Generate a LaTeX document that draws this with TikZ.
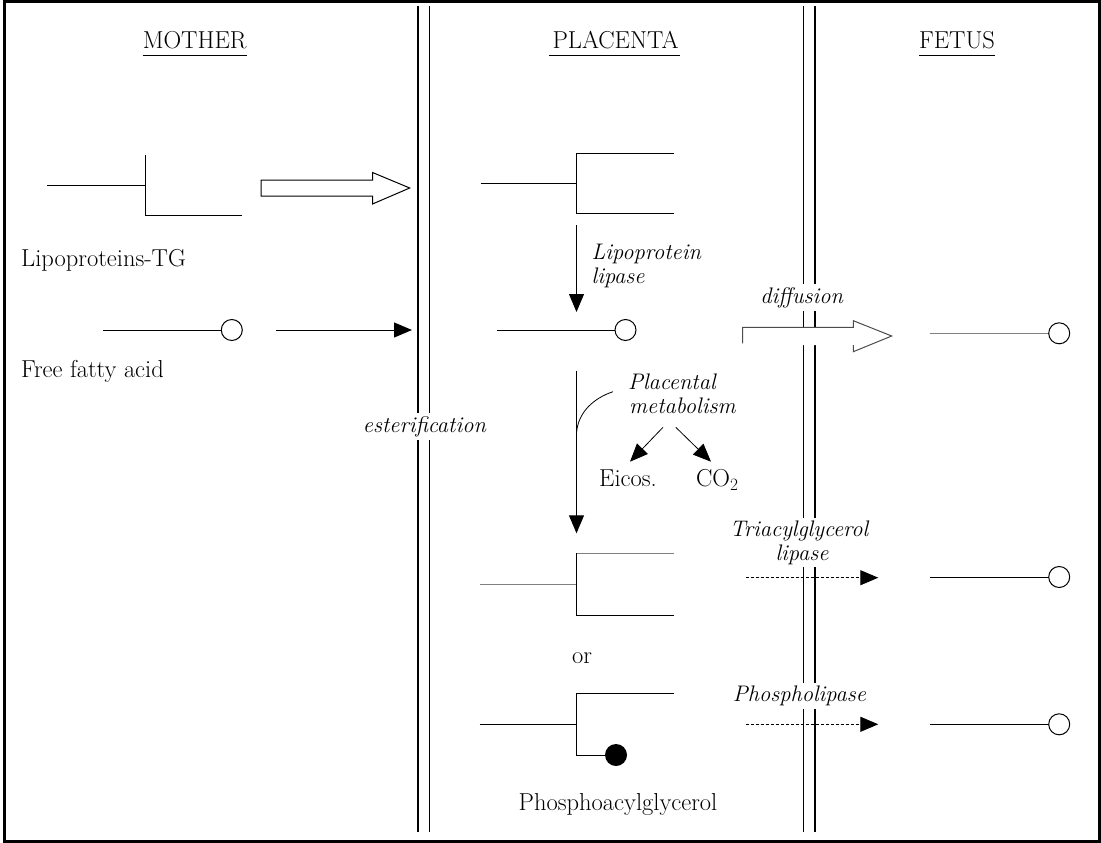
\documentclass[tikz,border=0pt]{standalone}
\usepackage{amsmath}
\usepackage{xcolor}
\usepackage{tikz}
\usetikzlibrary{arrows,calc,arrows.meta}

\tikzset{
  hdr/.style={inner sep=0pt,anchor=base},
  txt/.style={inner sep=0pt,anchor=base west},
  enz/.style={inner sep=0pt,anchor=base west,font=\fontsize{22.5}{24}\selectfont\itshape},
  cut/.style={fill=white,inner xsep=1pt,inner ysep=3pt,anchor=base,font=\fontsize{22.5}{24}\selectfont\itshape},
  chain/.style={line width=1pt},
  pale/.style={line width=1pt,black!50},
}

\begin{document}
\begin{tikzpicture}[x=1pt,y=-1pt,font=\fontsize{24.5}{26}\selectfont]
            \useasboundingbox (0,0) rectangle (1101,843);
            \draw[line width=3pt] (4.5,1.5) rectangle (1099.5,841.5);
            % membranes
            \coordinate (LMa) at (418,6);
            \coordinate (LMb) at (418,832);
            \coordinate (LNa) at (429.5,6);
            \coordinate (LNb) at (429.5,832);
            \coordinate (RMa) at (803.7,6);
            \coordinate (RMb) at (803.7,832);
            \coordinate (RNa) at (815,6);
            \coordinate (RNb) at (815,832);
            \draw[line width=2pt] (LMa) -- (LMb);
            \draw[line width=1.2pt] (LNa) -- (LNb);
            \draw[line width=1.2pt] (RMa) -- (RMb);
            \draw[line width=2pt] (RNa) -- (RNb);
            % headings
            \node (mother) [hdr] at (194.7,48.5) {MOTHER};
            \node (placenta) [hdr] at (615.5,48.5) {PLACENTA};
            \node (fetus) [hdr] at (957,48.5) {FETUS};
            \draw[line width=1.5pt] ($(mother.base west)+(0,7)$) -- ($(mother.base east)+(0,7)$);
            \draw[line width=1.5pt] ($(placenta.base west)+(-3,7)$) -- ($(placenta.base east)+(1,7)$);
            \draw[line width=1.5pt] ($(fetus.base west)+(0,7)$) -- ($(fetus.base east)+(0,7)$);
            % lipoproteins in the mother
            \coordinate (TGm) at (145,185);
            \draw[chain] ($(TGm)+(-98,0)$) -- (TGm);
            \draw[chain] ($(TGm)+(0,-30)$) -- ($(TGm)+(0,30)$) -- ($(TGm)+(97,30)$);
            \node (lptg) [txt] at (21,266) {Lipoproteins-TG};
            \coordinate (OA1) at (261,180);
            \coordinate (OA2) at (372.5,180);
            \coordinate (OA3) at (372.5,172.5);
            \coordinate (OA4) at (409.7,188);
            \coordinate (OA5) at (372.5,204);
            \coordinate (OA6) at (372.5,196);
            \coordinate (OA7) at (261,196);
            \draw[line width=1pt,fill=white] (OA1) -- (OA2) -- (OA3) -- (OA4) -- (OA5) -- (OA6) -- (OA7) -- cycle;
            % free fatty acid in the mother
            \coordinate (FAm) at (231.8,330);
            \draw[chain] (102.8,330) -- ($(FAm)+(-10.5,0)$);
            \draw[chain] (FAm) circle[radius=10.5];
            \node (ffa) [txt] at (21,377) {Free fatty acid};
            \coordinate (FAa) at (276,330);
            \coordinate (FAb) at (412,330);
            % placenta triacylglycerol
            \coordinate (TGp) at (576.5,183.5);
            \draw[chain] ($(TGp)+(-96,0)$) -- (TGp);
            \draw[chain] ($(TGp)+(97,-30)$) -- ($(TGp)+(0,-30)$) -- ($(TGp)+(0,30)$) -- ($(TGp)+(97,30)$);
            \coordinate (LLa) at (576.5,225);
            \coordinate (LLb) at (576.5,312);
            \node (lpl) [enz] at (591.5,259.3) {Lipoprotein};
            \node (lpl2) [enz] at (591.5,283.3) {lipase};
            % placenta free fatty acid
            \coordinate (FAp) at (625.5,330);
            \draw[chain] (496.5,330) -- ($(FAp)+(-10.5,0)$);
            \draw[chain] (FAp) circle[radius=10.5];
            % diffusion
            \coordinate (dfA) at (742.7,327.3);
            \coordinate (dfB) at (853.3,327.3);
            \coordinate (dfC) at (853.3,320.7);
            \coordinate (dfD) at (891.7,336);
            \coordinate (dfE) at (853.3,351.7);
            \coordinate (dfF) at (853.3,345);
            \coordinate (dfG) at (742.7,345);
            \fill[white] (dfA) -- (dfB) -- (dfC) -- (dfD) -- (dfE) -- (dfF) -- (dfG) -- cycle;
            \draw[line width=1pt,black!70] (742.7,343.3) -- (dfA) -- (dfB) -- (dfC) -- (dfD) -- (dfE) -- (dfF);
            \node (diff) [cut] at (801.7,303) {diffusion};
            % metabolism
            \coordinate (PMa) at (576.5,370.7);
            \coordinate (PMb) at (576.5,533.3);
            \coordinate (PMc) at (576.5,433);
            \coordinate (PMd) at (613,391.7);
            \draw[line width=0.8pt] (PMc) .. controls (578,412) and (594,398) .. (PMd);
            \node (plm) [enz] at (628,389.3) {Placental};
            \node (plm2) [enz] at (629,413.3) {metabolism};
            \coordinate (EIa) at (663,427.3);
            \coordinate (EIb) at (630,461.7);
            \coordinate (COa) at (675.8,427.3);
            \coordinate (COb) at (711,461.7);
            \node (eicos) [txt] at (599,486.7) {Eicos.};
            \node (co2) [txt] at (695.8,486.7) {CO$_2$};
            \node (esterif) [cut] at (424.4,432) {esterification};
            % re-esterified products
            \coordinate (TGq) at (576.5,584.3);
            \draw[pale] ($(TGq)+(-97,0)$) -- (TGq);
            \draw[pale] ($(TGq)+(97,-31)$) -- ($(TGq)+(0,-31)$);
            \draw[chain] ($(TGq)+(0,-31)$) -- ($(TGq)+(0,31)$) -- ($(TGq)+(97,31)$);
            \node (or) [txt] at (572,663.3) {or};
            \coordinate (PAg) at (576.5,724.3);
            \coordinate (Pdot) at (616,755);
            \draw[chain] ($(PAg)+(-97,0)$) -- (PAg);
            \draw[chain] ($(PAg)+(97,-31)$) -- ($(PAg)+(0,-31)$) -- ($(PAg)+(0,30.7)$) -- (Pdot);
            \fill (Pdot) circle[radius=11];
            \node (phag) [txt] at (518.5,810.7) {Phosphoacylglycerol};
            \node (tgl) [cut] at (799,536.7) {Triacylglycerol};
            \node (tgl2) [cut] at (802,560) {lipase};
            \node (phl) [cut] at (799.4,701.7) {Phospholipase};
            \coordinate (TLa) at (745.6,577.7);
            \coordinate (TLb) at (878.3,577.7);
            \coordinate (PLa) at (745.6,724.3);
            \coordinate (PLb) at (878.3,724.3);
            % fetus free fatty acids
            \coordinate (FAf1) at (1059.2,333.3);
            \coordinate (FAf2) at (1059.2,577);
            \coordinate (FAf3) at (1059.2,724.3);
            \draw[pale] (929.5,333.3) -- ($(FAf1)+(-10.5,0)$);
            \draw[chain] (929.5,577) -- ($(FAf2)+(-10.5,0)$);
            \draw[chain] (929.5,724.3) -- ($(FAf3)+(-10.5,0)$);
            \draw[chain,fill=white] (FAf1) circle[radius=10.5];
            \draw[chain,fill=white] (FAf2) circle[radius=10.5];
            \draw[chain,fill=white] (FAf3) circle[radius=10.5];
            \begin{scope}[line width=1pt,-{Triangle[length=18pt,width=15pt]}]
                \draw (FAa) -- (FAb);
                \draw (LLa) -- (LLb);
                \draw (PMa) -- (PMb);
                \draw[line width=0.8pt] (EIa) -- (EIb);
                \draw[line width=0.8pt] (COa) -- (COb);
                \draw[dash pattern=on 3pt off 2pt] (TLa) -- (TLb);
                \draw[dash pattern=on 3pt off 2pt] (PLa) -- (PLb);
            \end{scope}
        \end{tikzpicture}
\end{document}
